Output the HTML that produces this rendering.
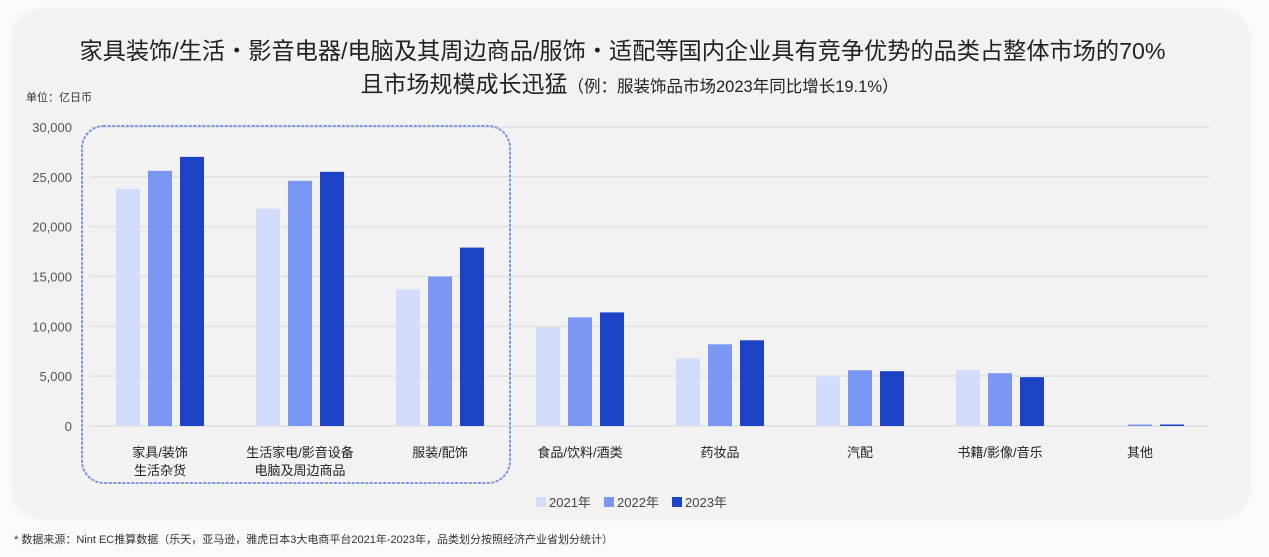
<!DOCTYPE html>
<html><head><meta charset="utf-8"><style>
body{margin:0;width:1269px;height:557px;background:#fafafa;overflow:hidden;font-family:"Liberation Sans","Noto Sans CJK SC",sans-serif;position:relative}
.card{position:absolute;left:14px;top:11px;width:1234px;height:506px;background:#f2f2f2;border-radius:26px;box-shadow:0 0 6px rgba(0,0,0,.08)}
.t{position:absolute;left:0;width:1269px;text-align:center;color:#222;white-space:nowrap}
</style></head><body>
<div class="card"></div>
<div class="t" style="top:32px;font-size:23.2px;left:-12px">家具装饰/生活・影音电器/电脑及其周边商品/服饰・适配等国内企业具有竞争优势的品类占整体市场的70%</div>
<div class="t" style="top:65px;font-size:23px;left:-5px">且市场规模成长迅猛<span style="font-size:16.5px">（例：服装饰品市场2023年同比增长19.1%）</span></div>
<div style="position:absolute;left:26px;top:89px;font-size:11px;color:#333">单位：亿日币</div>
<svg id="chart" width="1269" height="557" style="position:absolute;left:0;top:0"></svg>
<div style="position:absolute;left:14px;top:531px;font-size:11px;color:#333">* 数据来源：Nint EC推算数据（乐天，亚马逊，雅虎日本3大电商平台2021年-2023年，品类划分按照经济产业省划分统计）</div>
<script>
const categories=[["家具/装饰","生活杂货"],["生活家电/影音设备","电脑及周边商品"],["服装/配饰"],["食品/饮料/酒类"],["药妆品"],["汽配"],["书籍/影像/音乐"],["其他"]];
const series2021=[23800,21800,13700,9900,6800,5000,5600,0];
const series2022=[25600,24600,15000,10900,8200,5600,5300,100];
const series2023=[27000,25500,17900,11400,8600,5500,4900,150];
const seriesNames=["2021年","2022年","2023年"];
const yTicks=[0,5000,10000,15000,20000,25000,30000];
const colors=["#d3ddfb","#7b97f3","#1c43c6"];
const NS="http://www.w3.org/2000/svg";
const svg=document.getElementById('chart');
const y0=426,y1=127,vmax=30000,xL=90,band=140;
const y=v=>y0-(v/vmax)*(y0-y1);
const xc=i=>xL+band*i+band/2;
function mk(t,a){const e=document.createElementNS(NS,t);for(const k in a)e.setAttribute(k,a[k]);svg.appendChild(e);return e;}
yTicks.forEach(v=>{
  const l=mk('line',{x1:90,x2:1210,y1:y(v),y2:y(v),stroke:'#e0e0e0','stroke-width':1.5});
  
  
  const t=mk('text',{x:72,y:y(v)+5,'text-anchor':'end','font-size':13,fill:'#555'});
  t.textContent=v.toLocaleString('en-US');
  
  
});
const box=mk('rect',{x:82,y:126,width:428,height:357,rx:22,fill:'none',stroke:'#7b96e0','stroke-width':2,'stroke-dasharray':'1.5 3','stroke-linecap':'round'});


const all=[series2021,series2022,series2023];
const bw=24,gap=8;
categories.forEach((c,i)=>{
  all.forEach((s,j)=>{
    const x=xc(i)+(j-1)*(bw+gap)-bw/2;
    const h=Math.max(y0-y(s[i]),s[i]>0?1.5:0);
    const r=mk('rect',{x:x,y:y0-h,width:bw,height:h,fill:colors[j]});
    
    
  });
  c.forEach((ln,k)=>{
    const t=mk('text',{x:xc(i),y:457+k*18,'text-anchor':'middle','font-size':13,fill:'#222'});
    t.textContent=ln;
    
    
  });
});
seriesNames.forEach((n,j)=>{
  const lx=536+j*68;
  const r=mk('rect',{x:lx,y:497,width:10,height:10,fill:colors[j]});
  
  
  const t=mk('text',{x:lx+13,y:507,'font-size':13,fill:'#444'});
  t.textContent=n;
  
  
});
</script>
</body></html>
